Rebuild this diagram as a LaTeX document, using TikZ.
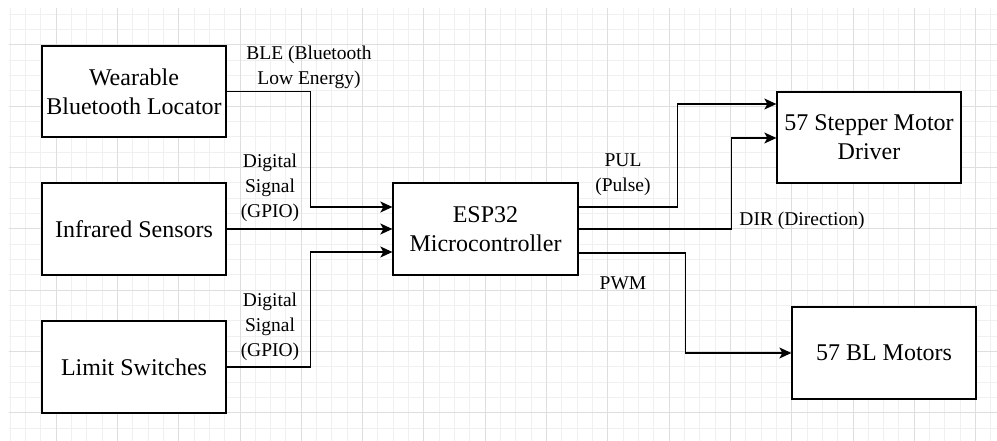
\documentclass[tikz,border=0pt]{standalone}
\usepackage{fontspec}
\setmainfont{Liberation Serif}
\usetikzlibrary{arrows.meta,calc}
\begin{document}
\begin{tikzpicture}[x=1pt,y=-1pt,
  box/.style={draw=black,line width=1.3pt,fill=white,minimum width=184pt,minimum height=91pt,
    inner sep=0pt,align=center,font=\fontsize{24}{29}\selectfont},
  lbl/.style={inner sep=0pt,align=center,font=\fontsize{19.5}{25}\selectfont},
  arr/.style={draw=black,line width=1.3pt,-{Stealth[length=12pt,width=11pt,inset=3pt]}},
  minorgrid/.style={draw=black!6,line width=1pt},
  majorgrid/.style={draw=black!13,line width=1pt}]
\useasboundingbox (0,0) rectangle (997,441);
\fill[white] (0,0) rectangle (997,441);
\begin{scope}
\clip (9,8) rectangle (997,441);
\foreach \i in {0,...,64} \draw[minorgrid] ({10.125+15.325*\i},8) -- ({10.125+15.325*\i},441);
\foreach \i in {0,...,28} \draw[minorgrid] (9,{14.35+15.325*\i}) -- (997,{14.35+15.325*\i});
\foreach \i in {0,...,15} \draw[majorgrid] ({56.1+61.3*\i},8) -- ({56.1+61.3*\i},441);
\foreach \i in {0,...,6} \draw[majorgrid] (9,{45+61.3*\i}) -- (997,{45+61.3*\i});
\end{scope}

\node[box] (wear) at (134,91.5) {Wearable\\Bluetooth Locator};
\node[box,minimum height=92pt] (infra) at (134,229) {Infrared Sensors};
\node[box,minimum height=92pt] (limit) at (134,367) {Limit Switches};
\node[box,minimum width=185pt,minimum height=92pt] (esp) at (485.5,229) {ESP32\\Microcontroller};
\node[box] (step) at (869,137.5) {57 Stepper Motor\\Driver};
\node[box,minimum height=92pt] (bl) at (884,353) {57 BL Motors};

\draw[arr] (wear.east) -- ++(84,0) |- ($(esp.west)+(0,-22)$);
\draw[arr] (infra.east) -- (esp.west);
\draw[arr] (limit.east) -- ++(84,0) |- ($(esp.west)+(0,23)$);
\draw[arr] ($(esp.east)+(0,-22)$) -- ++(99,0) |- ($(step.west)+(0,-33.5)$);
\draw[arr] (esp.east) -- ++(153,0) |- ($(step.west)+(0,0.5)$);
\draw[arr] ($(esp.east)+(0,24)$) -- ++(107,0) |- (bl.west);

\node[lbl] (lble) at (309,67) {BLE (Bluetooth\\Low Energy)};
\node[lbl] (ldig1) at (270,188) {Digital\\Signal\\(GPIO)};
\node[lbl] (ldig2) at (270,327) {Digital\\Signal\\(GPIO)};
\node[lbl] (lpul) at (623,175) {PUL\\(Pulse)};
\node[lbl] (ldir) at (802,221) {DIR (Direction)};
\node[lbl] (lpwm) at (623,283) {PWM};
\end{tikzpicture}
\end{document}
